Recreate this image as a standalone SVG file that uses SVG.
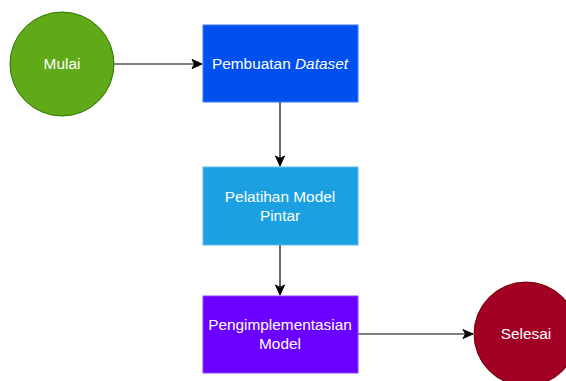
<svg xmlns="http://www.w3.org/2000/svg" width="566" height="381" viewBox="0 0 566 381">
  <style>
    .lbl { font-family: "Liberation Sans", Arial, Helvetica, sans-serif; font-size: 15.4px; fill: #ffffff; text-anchor: middle; }
    .edge { fill: none; stroke: #000000; stroke-width: 1.2; }
  </style>
  <defs>
    <marker id="arrow" markerWidth="12" markerHeight="12" refX="11" refY="6" orient="auto" markerUnits="userSpaceOnUse">
      <path d="M1,1.5 L11,6 L1,10.5 L3.5,6 Z" fill="#000000" stroke="#000000" stroke-width="1"/>
    </marker>
  </defs>
  <rect width="566" height="381" fill="#ffffff"/>

  <g id="connectors">
    <line class="edge" x1="114" y1="64" x2="202" y2="64" marker-end="url(#arrow)"/>
    <line class="edge" x1="280" y1="102" x2="280" y2="166" marker-end="url(#arrow)"/>
    <line class="edge" x1="280" y1="245" x2="280" y2="295" marker-end="url(#arrow)"/>
    <line class="edge" x1="358" y1="334" x2="473" y2="334" marker-end="url(#arrow)"/>
  </g>

  <g id="mulai">
    <circle cx="62" cy="64" r="52" fill="#60a917" stroke="#2d7600" stroke-width="1"/>
    <text class="lbl" x="62" y="69">Mulai</text>
  </g>

  <g id="pembuatan-dataset">
    <rect x="203" y="25" width="155" height="77" fill="#0050ef" stroke="#3a7bff" stroke-width="1"/>
    <text class="lbl" x="280" y="69">Pembuatan <tspan font-style="italic">Dataset</tspan></text>
  </g>

  <g id="pelatihan-model">
    <rect x="203" y="167" width="155" height="78" fill="#1ba1e2" stroke="#5cbdec" stroke-width="1"/>
    <text class="lbl" x="280" y="202">Pelatihan Model</text>
    <text class="lbl" x="280" y="221">Pintar</text>
  </g>

  <g id="pengimplementasian-model">
    <rect x="203" y="296" width="155" height="77" fill="#6a00ff" stroke="#8f45ff" stroke-width="1"/>
    <text class="lbl" x="280" y="330">Pengimplementasian</text>
    <text class="lbl" x="280" y="349">Model</text>
  </g>

  <g id="selesai">
    <circle cx="526" cy="334" r="52" fill="#a20025" stroke="#6f0000" stroke-width="1"/>
    <text class="lbl" x="526" y="339">Selesai</text>
  </g>
</svg>
